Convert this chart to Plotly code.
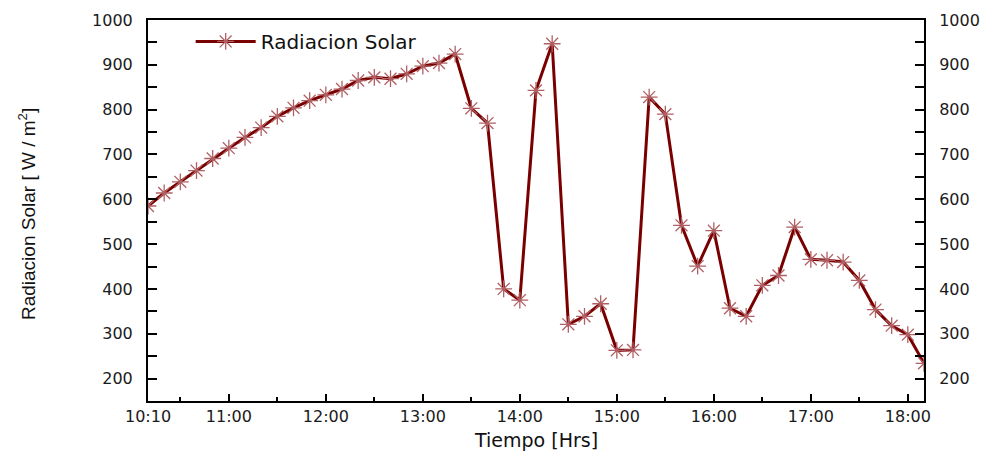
import plotly.graph_objects as go

# ---- data ----
times = ["10:10", "10:20", "10:30", "10:40", "10:50",
         "11:00", "11:10", "11:20", "11:30", "11:40", "11:50",
         "12:00", "12:10", "12:20", "12:30", "12:40", "12:50",
         "13:00", "13:10", "13:20", "13:30", "13:40", "13:50",
         "14:00", "14:10", "14:20", "14:30", "14:40", "14:50",
         "15:00", "15:10", "15:20", "15:30", "15:40", "15:50",
         "16:00", "16:10", "16:20", "16:30", "16:40", "16:50",
         "17:00", "17:10", "17:20", "17:30", "17:40", "17:50",
         "18:00", "18:10"]
radiacion = [585, 614, 639, 664, 691,
             714, 738, 760, 785, 804, 820,
             833, 846, 865, 872, 869, 880,
             897, 904, 924, 803, 770, 400,
             375, 843, 947, 321, 339, 367,
             263, 264, 828, 790, 542, 451,
             530, 357, 339, 408, 430, 538,
             466, 464, 460, 419, 354, 318,
             298, 234]
major_tick_labels = ["10:10", "11:00", "12:00", "13:00", "14:00",
                     "15:00", "16:00", "17:00", "18:00"]
minor_tick_labels = ["10:30", "11:30", "12:30", "13:30", "14:30",
                     "15:30", "16:30", "17:30"]


def to_hours(t):
    h, m = t.split(":")
    return int(h) + int(m) / 60.0


x = [to_hours(t) for t in times]
major_vals = [to_hours(t) for t in major_tick_labels]
minor_vals = [to_hours(t) for t in minor_tick_labels]

LINE = "#7a0000"
MARK = "rgb(176,96,100)"
TICKFONT = dict(family="DejaVu Sans, Verdana, sans-serif", size=16, color="#1a1a1a")

fig = go.Figure()
fig.add_trace(go.Scatter(
    x=x, y=radiacion, mode="lines+markers", name="Radiacion Solar",
    line=dict(color=LINE, width=3),
    marker=dict(symbol="asterisk-open", size=14, color=MARK,
                line=dict(color=MARK, width=1.3)),
))
# invisible trace to carry the mirrored right axis
fig.add_trace(go.Scatter(
    x=x, y=radiacion, mode="lines", yaxis="y2", showlegend=False,
    hoverinfo="skip", line=dict(width=0), opacity=0,
))

fig.update_layout(
    width=992, height=453,
    margin=dict(l=148, r=68, t=20, b=52),
    paper_bgcolor="white", plot_bgcolor="white",
    showlegend=True,
    legend=dict(x=0.055, y=0.995, xanchor="left", yanchor="top",
                bgcolor="rgba(0,0,0,0)",
                font=dict(family="DejaVu Sans, Verdana, sans-serif", size=20, color="#111"),
                itemwidth=60),
    xaxis=dict(
        range=[major_vals[0], to_hours("18:10")],
        tickmode="array", tickvals=major_vals, ticktext=major_tick_labels,
        ticks="inside", ticklen=7, tickwidth=2, tickcolor="black",
        minor=dict(tickmode="array", tickvals=minor_vals, ticks="inside",
                   ticklen=4, tickwidth=2, tickcolor="black"),
        showline=True, linecolor="black", linewidth=2, mirror=True,
        showgrid=False, zeroline=False, tickfont=TICKFONT,
    ),
    yaxis=dict(
        range=[150, 1000], tickmode="linear", tick0=200, dtick=100,
        ticks="inside", ticklen=9, tickwidth=2, tickcolor="black",
        minor=dict(dtick=50, tick0=150, ticks="inside", ticklen=9,
                   tickwidth=2, tickcolor="black"),
        showline=True, linecolor="black", linewidth=2, mirror=True,
        showgrid=False, zeroline=False, tickfont=TICKFONT,
        ticklabelstandoff=10,
    ),
    yaxis2=dict(
        range=[150, 1000], overlaying="y", side="right",
        tickmode="linear", tick0=200, dtick=100,
        ticks="inside", ticklen=9, tickwidth=2, tickcolor="black",
        minor=dict(dtick=50, tick0=150, ticks="inside", ticklen=9,
                   tickwidth=2, tickcolor="black"),
        showline=True, linecolor="black", linewidth=2,
        showgrid=False, zeroline=False, tickfont=TICKFONT,
        ticklabelstandoff=10,
    ),
    annotations=[
        dict(text="Radiacion Solar [ W / m<sup>2</sup>]", textangle=-90,
             xref="paper", yref="paper", x=-0.155, y=0.49,
             xanchor="center", yanchor="middle", showarrow=False,
             font=dict(family="Liberation Sans Narrow, Arial Narrow, Liberation Sans, sans-serif",
                       size=19, color="#111")),
        dict(text="Tiempo [Hrs]", xref="paper", yref="paper",
             x=0.5, y=-0.102, xanchor="center", yanchor="middle",
             showarrow=False,
             font=dict(family="DejaVu Sans, Verdana, sans-serif", size=19, color="#111")),
    ],
)

fig.write_html("out.html")
